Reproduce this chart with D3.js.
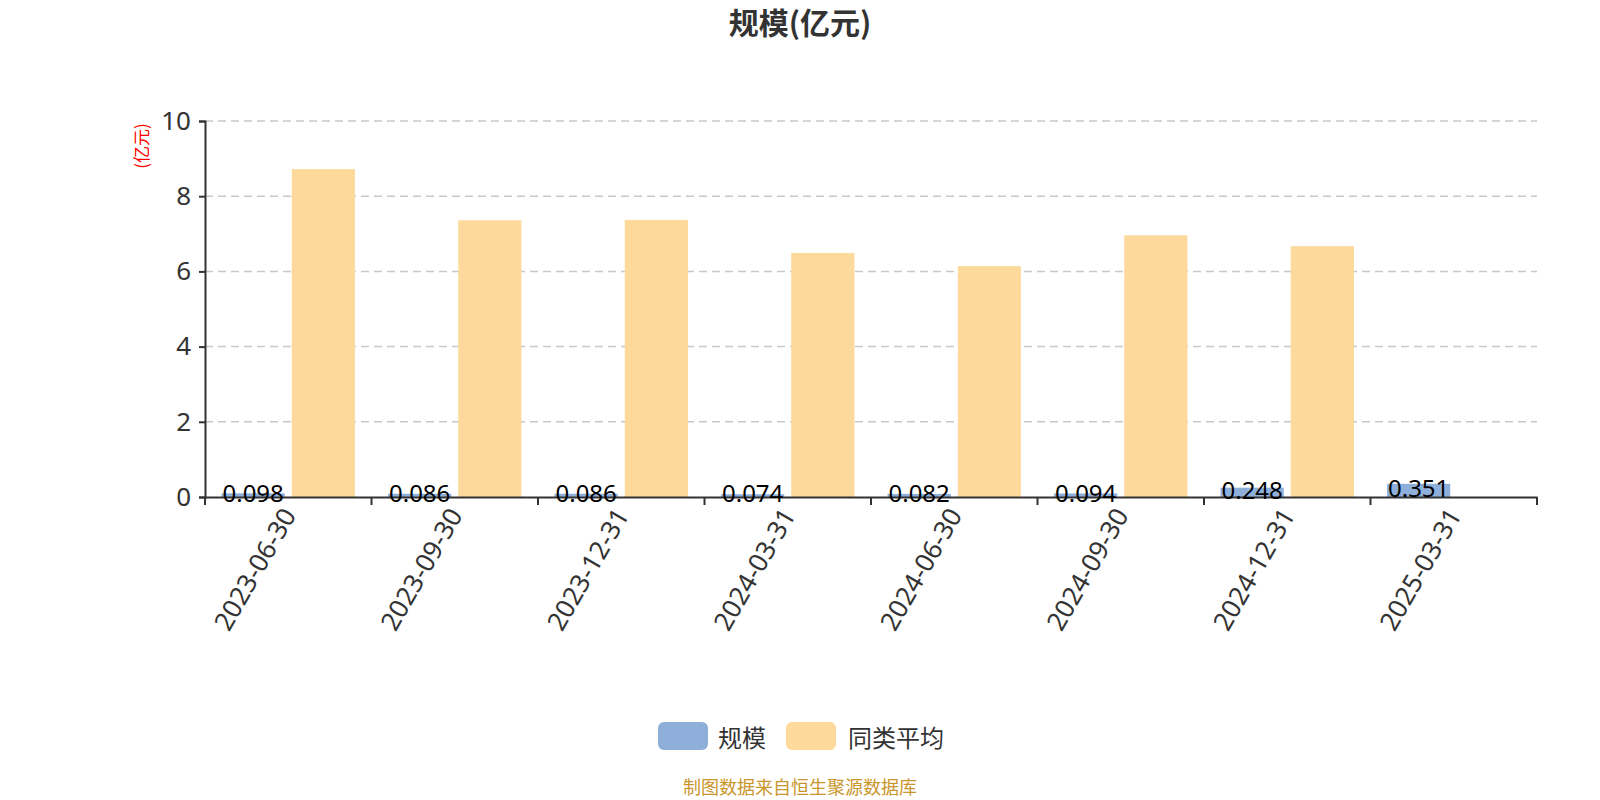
<!DOCTYPE html>
<html><head><meta charset="utf-8">
<script src="https://cdn.jsdelivr.net/npm/d3@7/dist/d3.min.js"></script>
<style>
html,body{margin:0;padding:0;background:#fff;}
svg{display:block;font-family:"Noto Sans CJK SC","Noto Sans",sans-serif;}
</style></head>
<body><svg id="c" width="1600" height="800"></svg>
<script>
const categories = ["2023-06-30","2023-09-30","2023-12-31","2024-03-31","2024-06-30","2024-09-30","2024-12-31","2025-03-31"];
const scaleValues = [0.098,0.086,0.086,0.074,0.082,0.094,0.248,0.351];
const peerAvgValues = [8.72,7.36,7.37,6.49,6.14,6.96,6.67,null];
const seriesNames = ["规模","同类平均"];
const yTicks = [0,2,4,6,8,10];
const colors = ["#8fafdb","#fdd99b"];

const svg = d3.select("#c");
const plotL = 205, plotR = 1537, plotT = 121, plotB = 497;

const x = d3.scaleBand().domain(categories).range([plotL,plotR]).padding(0);
const xs = d3.scaleBand().domain(seriesNames).range([0,x.bandwidth()]).paddingInner(0.1).paddingOuter(0.236);
const y = d3.scaleLinear().domain([0,10]).range([plotB,plotT]);

// title
svg.append("text").attr("x",800).attr("y",34).attr("text-anchor","middle")
  .attr("font-size",30).attr("font-weight","bold").attr("fill","#333").text("规模(亿元)");

// grid
svg.append("g").selectAll("line").data(yTicks.filter(t=>t>0)).join("line")
  .attr("x1",plotL).attr("x2",plotR).attr("y1",d=>y(d)).attr("y2",d=>y(d))
  .attr("stroke","#c8c8c8").attr("stroke-width",1.5).attr("stroke-dasharray","8,5");

// y axis label
svg.append("text").attr("transform","translate(148,146) rotate(-90)").attr("text-anchor","middle")
  .attr("font-size",17).attr("fill","#ff0000").text("(亿元)");

// bars
const data = categories.map((c,i)=>({c, v:[scaleValues[i], peerAvgValues[i]]}));
const g = svg.append("g");
data.forEach(d=>{
  d.v.forEach((v,k)=>{
    if(v==null) return;
    g.append("rect").attr("x",x(d.c)+xs(seriesNames[k])).attr("width",xs.bandwidth())
      .attr("y",y(v)).attr("height",y(0)-y(v)).attr("fill",colors[k]);
  });
});

// y axis
const yAxis = svg.append("g").attr("transform",`translate(${plotL},0)`)
  .call(d3.axisLeft(y).tickValues(yTicks).tickSize(6).tickPadding(8).tickFormat(d3.format("d")));
yAxis.select(".domain").attr("stroke","#333").attr("stroke-width",2);
yAxis.selectAll(".tick line").attr("stroke","#333").attr("stroke-width",2);
yAxis.selectAll(".tick text").attr("font-size",26).attr("fill","#333").attr("font-family","Noto Sans,sans-serif");

// x axis
const xAxis = svg.append("g").attr("transform",`translate(0,${plotB})`)
  .call(d3.axisBottom(x).tickSize(0).tickPadding(0));
xAxis.select(".domain").attr("stroke","#333").attr("stroke-width",2);
xAxis.selectAll(".tick text").remove();
const bounds = categories.map(c=>x(c)).concat([plotR]);
xAxis.selectAll(".bt").data(bounds).join("line").attr("class","bt")
  .attr("x1",d=>d).attr("x2",d=>d).attr("y1",0).attr("y2",8).attr("stroke","#333").attr("stroke-width",2);
xAxis.selectAll(".xl").data(categories).join("text").attr("class","xl")
  .attr("transform",d=>`translate(${x(d)+x.bandwidth()/2},13) rotate(-60)`)
  .attr("text-anchor","end").attr("dominant-baseline","central")
  .attr("font-size",26).attr("fill","#333").attr("font-family","Noto Sans,sans-serif").text(d=>d);

// data labels for 规模
svg.append("g").selectAll("text").data(categories).join("text")
  .attr("x",d=>x(d)+xs(seriesNames[0])+xs.bandwidth()/2)
  .attr("y",(d,i)=>(y(0)+y(scaleValues[i]))/2-3)
  .attr("text-anchor","middle").attr("dominant-baseline","central")
  .attr("font-size",24).attr("fill","#000").attr("font-family","Noto Sans,sans-serif")
  .text((d,i)=>scaleValues[i]);

// legend
const lg = svg.append("g");
const legendPos = [{rx:658, tx:718},{rx:786, tx:848}];
seriesNames.forEach((n,k)=>{
  lg.append("rect").attr("x",legendPos[k].rx).attr("y",722).attr("width",50).attr("height",28).attr("rx",6).attr("fill",colors[k]);
  lg.append("text").attr("x",legendPos[k].tx).attr("y",736).attr("dominant-baseline","central")
    .attr("font-size",24).attr("fill","#333").text(n);
});

// footer
svg.append("text").attr("x",800).attr("y",786).attr("text-anchor","middle").attr("dominant-baseline","central")
  .attr("font-size",18).attr("fill","#c9962c").text("制图数据来自恒生聚源数据库");
</script></body></html>
